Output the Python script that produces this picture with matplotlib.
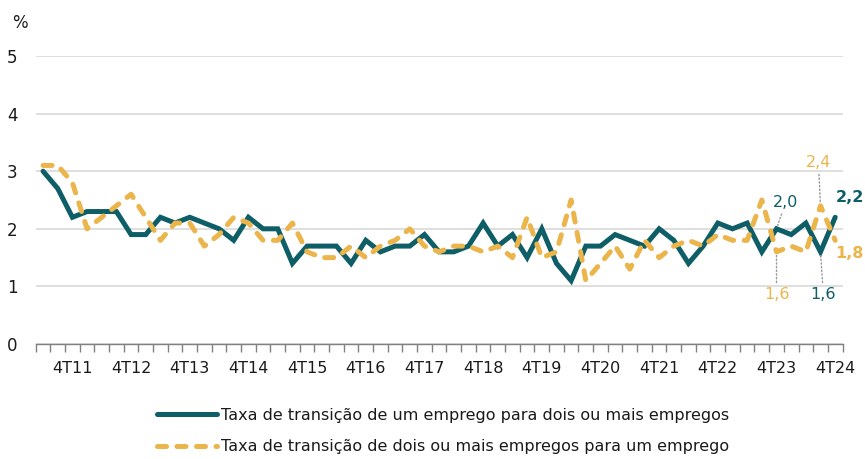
import numpy as np
import matplotlib.pyplot as plt

plt.rcParams['font.family'] = ['DejaVu Sans']

# trimestres de 2T11 a 4T24
quarters = ['2T11', '3T11', '4T11'] + [f'{q}T{y}' for y in range(12, 25) for q in (1, 2, 3, 4)]

# taxa de transição de um emprego para dois ou mais empregos (%)
um_para_dois = [3.0, 2.7, 2.2, 2.3, 2.3, 2.3, 1.9, 1.9, 2.2, 2.1,
                2.2, 2.1, 2.0, 1.8, 2.2, 2.0, 2.0, 1.4, 1.7, 1.7,
                1.7, 1.4, 1.8, 1.6, 1.7, 1.7, 1.9, 1.6, 1.6, 1.7,
                2.1, 1.7, 1.9, 1.5, 2.0, 1.4, 1.1, 1.7, 1.7, 1.9,
                1.8, 1.7, 2.0, 1.8, 1.4, 1.7, 2.1, 2.0, 2.1, 1.6,
                2.0, 1.9, 2.1, 1.6, 2.2]

# taxa de transição de dois ou mais empregos para um emprego (%)
dois_para_um = [3.1, 3.1, 2.8, 2.0, 2.2, 2.4, 2.6, 2.2, 1.8, 2.1,
                2.1, 1.7, 1.9, 2.2, 2.1, 1.8, 1.8, 2.1, 1.6, 1.5,
                1.5, 1.7, 1.5, 1.7, 1.8, 2.0, 1.7, 1.6, 1.7, 1.7,
                1.6, 1.7, 1.5, 2.2, 1.5, 1.6, 2.5, 1.1, 1.4, 1.7,
                1.3, 1.8, 1.5, 1.7, 1.8, 1.7, 1.9, 1.8, 1.8, 2.5,
                1.6, 1.7, 1.6, 2.4, 1.8]

labels = ['Taxa de transição de um emprego para dois ou mais empregos',
          'Taxa de transição de dois ou mais empregos para um emprego']

teal = '#0E5E67'
gold = '#EBB54B'
txt = '#1a1a1a'

x = np.arange(len(quarters))
tick_idx = [i for i, q in enumerate(quarters) if q.startswith('4T')]

fig = plt.figure(figsize=(8.65, 4.59), dpi=100)
ax = fig.add_axes([0.0413, 0.2505, 0.9327, 0.6275])

l1, = ax.plot(x, um_para_dois, color=teal, lw=3.6, solid_capstyle='round',
              solid_joinstyle='miter', zorder=3)
l2, = ax.plot(x, dois_para_um, color=gold, lw=3.6, dashes=(1.8, 2.1),
              dash_capstyle='round', zorder=4)

ax.set_xlim(-0.5, len(x) - 0.5)
ax.set_ylim(0, 5)
ax.set_yticks(range(6))
ax.yaxis.grid(True, color='#D9D9D9', lw=1.2)
ax.set_axisbelow(True)
ax.tick_params(axis='y', length=0, pad=13, labelsize=12, labelcolor=txt)

ax.set_xticks(tick_idx)
ax.set_xticklabels([quarters[i] for i in tick_idx])
ax.set_xticks(np.arange(-0.5, len(x), 1), minor=True)
ax.tick_params(axis='x', which='major', length=0, pad=12, labelsize=11.5, labelcolor=txt)
ax.tick_params(axis='x', which='minor', length=6, width=1, color='#808080')

for s in ['top', 'right', 'left']:
    ax.spines[s].set_visible(False)
ax.spines['bottom'].set_color('#808080')
ax.spines['bottom'].set_linewidth(1)

fig.text(20 / 865, 1 - 23 / 459, '%', ha='center', va='center', fontsize=12, color=txt)

# valores destacados
lead = dict(arrowstyle='-', linestyle=':', color='#999999', lw=1, shrinkA=1, shrinkB=2)
i50, i53, last = 50, 53, len(x) - 1
ax.annotate(f'{um_para_dois[i50]:.1f}'.replace('.', ','), (i50, um_para_dois[i50]),
            xytext=(6.5, 19), textcoords='offset points', ha='center', va='center',
            fontsize=11.5, color=teal, arrowprops=lead)
ax.annotate(f'{dois_para_um[i50]:.1f}'.replace('.', ','), (i50, dois_para_um[i50]),
            xytext=(0, -30.5), textcoords='offset points', ha='center', va='center',
            fontsize=11.5, color=gold, arrowprops=lead)
ax.annotate(f'{um_para_dois[i53]:.1f}'.replace('.', ','), (i53, um_para_dois[i53]),
            xytext=(2, -30.5), textcoords='offset points', ha='center', va='center',
            fontsize=11.5, color=teal, arrowprops=lead)
ax.annotate(f'{dois_para_um[i53]:.1f}'.replace('.', ','), (i53, dois_para_um[i53]),
            xytext=(-1.5, 31), textcoords='offset points', ha='center', va='center',
            fontsize=11.5, color=gold, arrowprops=lead)
ax.annotate(f'{um_para_dois[last]:.1f}'.replace('.', ','), (last, um_para_dois[last]),
            xytext=(10.5, 14), textcoords='offset points', ha='center', va='center',
            fontsize=11.5, fontweight='bold', color=teal)
ax.annotate(f'{dois_para_um[last]:.1f}'.replace('.', ','), (last, dois_para_um[last]),
            xytext=(10.5, -9.5), textcoords='offset points', ha='center', va='center',
            fontsize=11.5, fontweight='bold', color=gold)

fig.legend([l1, l2], labels, loc='center', bbox_to_anchor=(443 / 865, 0.061),
           frameon=False, handlelength=3.75, handletextpad=0.25, labelspacing=1.05,
           fontsize=11.5, labelcolor=txt)

fig.savefig('out.png', dpi=100)
